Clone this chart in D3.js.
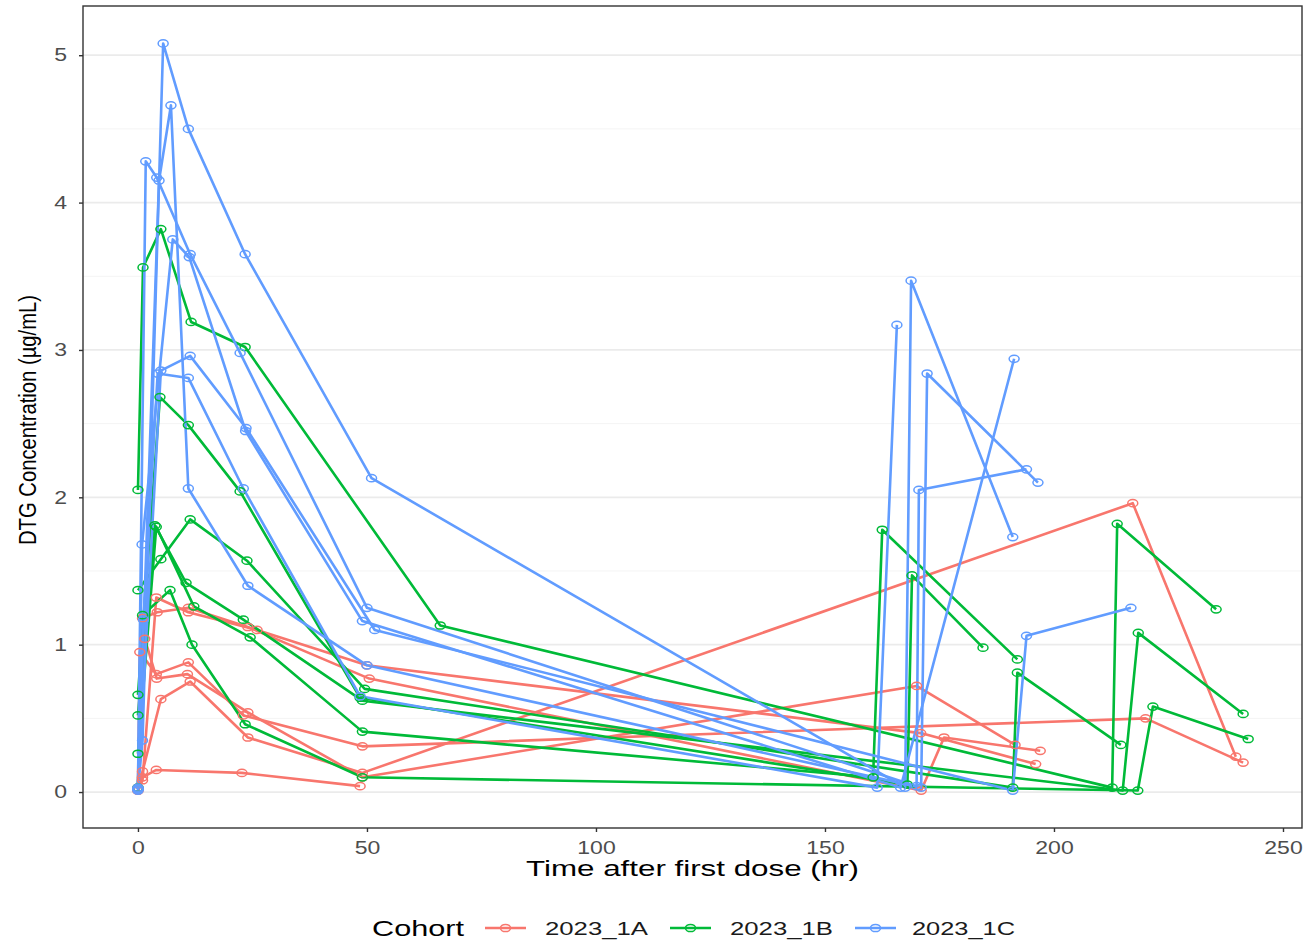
<!DOCTYPE html>
<html>
<head>
<meta charset="utf-8">
<script src="https://cdn.jsdelivr.net/npm/d3@7"></script>
<style>
  body { margin: 0; background: #fff; }
  text { font-family: "Liberation Sans", Arial, sans-serif; }
</style>
</head>
<body>
<script>
// tick values
let timeTicks = [0, 50, 100, 150, 200, 250]
let concTicks = [0, 1, 2, 3, 4, 5]
let concMinor = [0.5, 1.5, 2.5, 3.5, 4.5]
let cohorts = ['2023_1A', '2023_1B', '2023_1C']

// subjects: [time (hr), DTG (ug/mL)]
// cohort 2023_1A
let a1 = [[0, 0.02], [1, 0.14], [5, 0.63], [11.4, 0.75], [24, 0.37], [49, 0.13], [217.2, 1.96], [239.7, 0.24]]
let a2 = [[0, 0.03], [0.4, 0.95], [4, 0.80], [11, 0.88], [23, 0.52], [49, 0.31], [220, 0.50], [241.3, 0.20]]
let a3 = [[0, 0.02], [1.5, 1.04], [4.1, 0.77], [10.8, 0.80], [24, 0.54], [49, 0.10], [170, 0.72], [191.5, 0.32]]
let a4 = [[0, 0.01], [1, 0.08], [4, 1.32], [11, 1.22], [26, 1.10], [50, 0.86], [170.9, 0.40], [196, 0.19]]
let a5 = [[0, 0.02], [1, 1.18], [4.2, 1.22], [11, 1.25], [24, 1.12], [50.5, 0.77], [171, 0.01], [176, 0.37], [197, 0.28]]
let a6 = [[0, 0.01], [1, 0.10], [4, 0.15], [22.7, 0.13], [48.5, 0.04]]
// cohort 2023_1B
let b1 = [[0, 2.05], [1.1, 3.56], [5, 3.82], [11.6, 3.19], [23.4, 3.02], [66, 1.13], [212.7, 0.03], [213.8, 1.82], [235.4, 1.24]]
let b2 = [[0, 0.66], [4.8, 2.68], [11, 2.49], [22.3, 2.04], [48.5, 0.64], [168, 0.05], [169, 1.47], [184.5, 0.98]]
let b3 = [[0, 1.37], [5, 1.58], [11.4, 1.85], [23.8, 1.57], [49.5, 0.70], [191, 0.03], [192, 0.81], [214.6, 0.32]]
let b4 = [[0, 0.52], [3.7, 1.81], [10.5, 1.42], [23, 1.17], [49, 0.62], [215, 0.01], [218.4, 1.08], [241.3, 0.53]]
let b5 = [[0, 0.26], [4, 1.80], [12.2, 1.26], [24.5, 1.05], [49, 0.41], [160.5, 0.10], [162.5, 1.78], [192, 0.90]]
let b6 = [[0, 0.03], [1, 1.20], [7, 1.37], [11.8, 1.00], [23.4, 0.46], [49, 0.10], [218.3, 0.01], [221.6, 0.58], [242.4, 0.36]]
// cohort 2023_1C
let c1 = [[0, 0.02], [1, 0.35], [5.5, 5.08], [11, 4.50], [23.4, 3.65], [51, 2.13], [167.5, 0.03], [168.8, 3.47], [191, 1.73]]
let c2 = [[0, 0.02], [4.6, 4.15], [7.2, 4.66], [11, 2.06], [24, 1.40], [50, 0.86], [171, 0.03], [172.3, 2.84], [196.5, 2.10]]
let c3 = [[0, 0.03], [1.7, 4.28], [4.1, 4.17], [11.4, 3.65], [22.3, 2.98], [50, 1.25], [170, 0.04], [170.5, 2.05], [194, 2.19]]
let c4 = [[0, 0.02], [5, 2.86], [11.4, 2.96], [23.6, 2.47], [51.7, 1.10], [191, 0.01], [194, 1.06], [216.8, 1.25]]
let c5 = [[0, 0.01], [0.9, 1.68], [7.6, 3.75], [11.2, 3.63], [23.5, 2.45], [49, 1.16], [166.5, 0.03], [191.3, 2.94]]
let c6 = [[0, 0.02], [1.2, 1.17], [4.3, 2.84], [11, 2.81], [23, 2.06], [48.5, 0.65], [161.4, 0.03], [165.7, 3.17]]

let groups = [
    { cohort: '2023_1A', subjects: [a1, a2, a3, a4, a5, a6] },
    { cohort: '2023_1B', subjects: [b1, b2, b3, b4, b5, b6] },
    { cohort: '2023_1C', subjects: [c1, c2, c3, c4, c5, c6] }
]

let colors = { '2023_1A': '#F8766D', '2023_1B': '#00BA38', '2023_1C': '#619CFF' }

let width = 1304
let height = 942
let panel = { left: 83, right: 1302, top: 6, bottom: 828 }

let svg = d3.select('body').append('svg')
    .attr('width', width)
    .attr('height', height)

let xScale = d3.scaleLinear()
    .domain([-12.0, 254.15])
    .range([panel.left, panel.right])

let yScale = d3.scaleLinear()
    .domain([-0.244, 5.334])
    .range([panel.bottom, panel.top])

// grid (horizontal only)
svg.append('g').selectAll('line')
    .data(concMinor)
    .enter().append('line')
    .attr('x1', panel.left).attr('x2', panel.right)
    .attr('y1', d => yScale(d)).attr('y2', d => yScale(d))
    .attr('stroke', '#f4f4f4').attr('stroke-width', 1)

svg.append('g').selectAll('line')
    .data(concTicks)
    .enter().append('line')
    .attr('x1', panel.left).attr('x2', panel.right)
    .attr('y1', d => yScale(d)).attr('y2', d => yScale(d))
    .attr('stroke', '#ebebeb').attr('stroke-width', 1.8)

// lines
let line = d3.line()
    .x(d => xScale(d[0]))
    .y(d => yScale(d[1]))

groups.forEach(g => {
    svg.append('g').selectAll('path')
        .data(g.subjects)
        .enter().append('path')
        .attr('d', line)
        .attr('fill', 'none')
        .attr('stroke', colors[g.cohort])
        .attr('stroke-width', 2.6)
        .attr('stroke-linejoin', 'round')
})

// points
groups.forEach(g => {
    svg.append('g').selectAll('ellipse')
        .data(g.subjects.flat())
        .enter().append('ellipse')
        .attr('cx', d => xScale(d[0]))
        .attr('cy', d => yScale(d[1]))
        .attr('rx', 5)
        .attr('ry', 3.6)
        .attr('fill', 'none')
        .attr('stroke', colors[g.cohort])
        .attr('stroke-width', 1.5)
})

// panel border
svg.append('rect')
    .attr('x', panel.left).attr('y', panel.top)
    .attr('width', panel.right - panel.left)
    .attr('height', panel.bottom - panel.top)
    .attr('fill', 'none')
    .attr('stroke', '#333333')
    .attr('stroke-width', 1.4)

// axes
let xAxis = d3.axisBottom(xScale).tickValues(timeTicks).tickFormat(d3.format('d')).tickSize(4).tickPadding(5)
let yAxis = d3.axisLeft(yScale).tickValues(concTicks).tickFormat(d3.format('d')).tickSize(4).tickPadding(12)

let gx = svg.append('g')
    .attr('transform', 'translate(0,' + panel.bottom + ')')
    .call(xAxis)
gx.select('.domain').remove()
gx.selectAll('line').attr('stroke', '#333333').attr('stroke-width', 1.4)
gx.selectAll('text')
    .attr('fill', '#4d4d4d')
    .style('font-size', '18px')
    .attr('textLength', d => String(d).length * 12.8)
    .attr('lengthAdjust', 'spacingAndGlyphs')
    .attr('dy', '0.95em')

let gy = svg.append('g')
    .attr('transform', 'translate(' + panel.left + ',0)')
    .call(yAxis)
gy.select('.domain').remove()
gy.selectAll('line').attr('stroke', '#333333').attr('stroke-width', 1.4)
gy.selectAll('text')
    .attr('fill', '#4d4d4d')
    .style('font-size', '18px')
    .attr('textLength', 12.8)
    .attr('lengthAdjust', 'spacingAndGlyphs')

// axis titles
svg.append('text')
    .attr('x', (panel.left + panel.right) / 2)
    .attr('y', 876)
    .attr('text-anchor', 'middle')
    .style('font-size', '22px')
    .attr('textLength', 333)
    .attr('lengthAdjust', 'spacingAndGlyphs')
    .attr('fill', 'black')
    .text('Time after first dose (hr)')

svg.append('text')
    .attr('transform', 'translate(36,' + ((panel.top + panel.bottom) / 2 + 3) + ') scale(1.3,1) rotate(-90)')
    .attr('text-anchor', 'middle')
    .style('font-size', '19px')
    .attr('textLength', 250)
    .attr('lengthAdjust', 'spacingAndGlyphs')
    .attr('fill', 'black')
    .text('DTG Concentration (µg/mL)')

// legend
let legend = svg.append('g').attr('transform', 'translate(0,928)')
legend.append('text')
    .attr('x', 372).attr('y', 8)
    .style('font-size', '22px')
    .attr('textLength', 92)
    .attr('lengthAdjust', 'spacingAndGlyphs')
    .text('Cohort')

let keyX = [485, 670, 855]
cohorts.forEach((c, i) => {
    let k = legend.append('g').attr('transform', 'translate(' + keyX[i] + ',0)')
    k.append('line')
        .attr('x1', 0).attr('x2', 41).attr('y1', 0).attr('y2', 0)
        .attr('stroke', colors[c]).attr('stroke-width', 2.6)
    k.append('ellipse')
        .attr('cx', 20.5).attr('cy', 0).attr('rx', 5).attr('ry', 3.6)
        .attr('fill', 'none').attr('stroke', colors[c]).attr('stroke-width', 1.5)
    k.append('text')
        .attr('x', i === 2 ? 57 : 60).attr('y', 7)
        .style('font-size', '19px')
        .attr('textLength', 103)
        .attr('lengthAdjust', 'spacingAndGlyphs')
        .attr('fill', '#1a1a1a')
        .text(c)
})
</script>
</body>
</html>
